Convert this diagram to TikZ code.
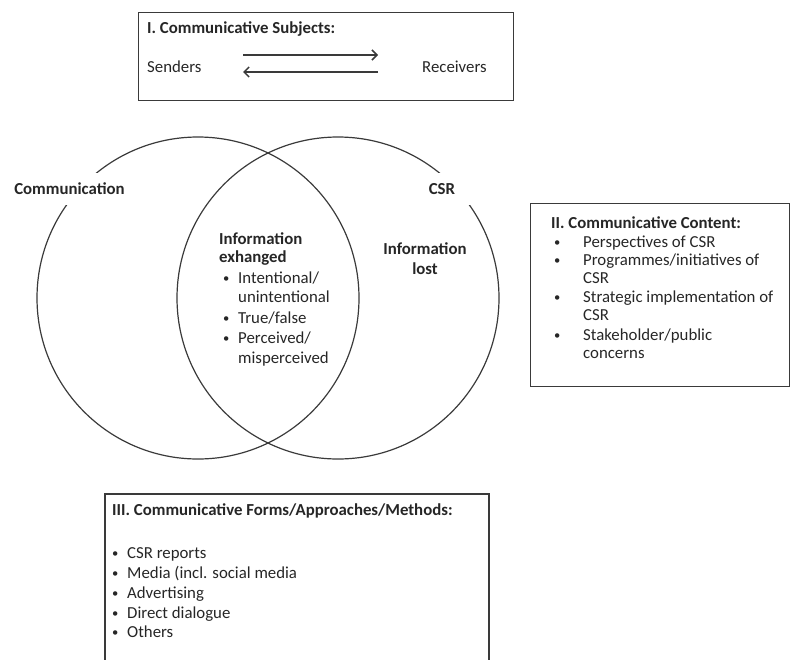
\documentclass[tikz,border=0pt]{standalone}
\usepackage{fontspec}
\usepackage{graphicx}
\setmainfont{Carlito}
\usetikzlibrary{arrows.meta}
\definecolor{ink}{HTML}{262626}
\definecolor{edge}{HTML}{3A3A3A}
\newcommand{\smallbul}{\raisebox{0.5pt}{\scalebox{0.75}{\textbullet}}}
\tikzset{
  txt/.style={anchor=base west, inner sep=0pt, text=ink, font=\fontsize{16.8}{20}\selectfont},
  ttl/.style={txt, font=\fontsize{16.8}{20}\selectfont\bfseries},
  bul/.style={txt},
  boxline/.style={draw=edge, line width=1.4pt},
  venn/.style={circle, draw=edge, line width=1.2pt, minimum size=322pt, inner sep=0pt},
  gaplabel/.style={fill=white, text=ink, font=\fontsize{16.8}{20}\selectfont\bfseries, minimum height=32pt, inner xsep=1pt},
  arr/.style={draw=edge, line width=1.5pt, -{Straight Barb[length=5pt,width=10pt,line width=1.5pt]}}
}
\begin{document}
\begin{tikzpicture}[x=1pt,y=-1pt]
\useasboundingbox (0,0) rectangle (792,659);
% Box I
\node[boxline, rectangle, minimum width=375pt, minimum height=88pt, anchor=north west] (boxI) at (138,12) {};
\node[ttl] (tI) at (147,33) {I. Communicative Subjects:};
\node[txt] (send) at (147,72) {Senders};
\node[txt] (recv) at (422,72) {Receivers};
\coordinate (a1s) at (243,55);
\coordinate (a1e) at (378,55);
\coordinate (a2s) at (378,72);
\coordinate (a2e) at (243,72);
\draw[arr] (a1s) -- (a1e);
\draw[arr] (a2s) -- (a2e);
% Venn circles
\node[venn] (comm) at (198,298) {};
\node[venn] (csr) at (338,298) {};
\node[gaplabel] (lcomm) at (69.5,189) {Communication};
\node[gaplabel, minimum width=60pt] (lcsr) at (442,189) {CSR};
% Intersection
\node[ttl] (ie1) at (219,244) {Information};
\node[ttl] (ie2) at (219,262) {exhanged};
\node[bul] (ib1) at (223,283) {\smallbul};
\node[txt] (ii1) at (238,283) {Intentional/};
\node[txt] (ii1b) at (238,302) {unintentional};
\node[bul] (ib2) at (223,323) {\smallbul};
\node[txt] (ii2) at (238,323) {True/false};
\node[bul] (ib3) at (223,343) {\smallbul};
\node[txt] (ii3) at (238,343) {Perceived/};
\node[txt] (ii3b) at (238,363) {misperceived};
% Information lost
\node[ttl, anchor=base] (il1) at (425,254) {Information};
\node[ttl, anchor=base] (il2) at (425,274) {lost};
% Box II
\node[boxline, rectangle, minimum width=259pt, minimum height=183pt, anchor=north west] (boxII) at (530,203) {};
\node[ttl] (tII) at (551,228) {II. Communicative Content:};
\node[bul] (cb1) at (554,247) {\smallbul};
\node[txt] (c1) at (583,247) {Perspectives of CSR};
\node[bul] (cb2) at (554,265) {\smallbul};
\node[txt] (c2) at (583,265) {Programmes/initiatives of};
\node[txt] (c2b) at (583,283) {CSR};
\node[bul] (cb3) at (554,302) {\smallbul};
\node[txt] (c3) at (583,302) {Strategic implementation of};
\node[txt] (c3b) at (583,320) {CSR};
\node[bul] (cb4) at (554,340) {\smallbul};
\node[txt] (c4) at (583,340) {Stakeholder/public};
\node[txt] (c4b) at (583,358) {concerns};
% Box III (bottom edge cut off by the picture border)
\coordinate (b3bl) at (105,670);
\coordinate (b3tl) at (105,494);
\coordinate (b3tr) at (489,494);
\coordinate (b3br) at (489,670);
\draw[boxline] (b3bl) -- (b3tl) -- (b3tr) -- (b3br);
\node[ttl] (tIII) at (112,515) {III. Communicative Forms/Approaches/Methods:};
\node[bul] (fb1) at (112,558) {\smallbul};
\node[txt] (f1) at (127,558) {CSR reports};
\node[bul] (fb2) at (112,578) {\smallbul};
\node[txt] (f2) at (127,578) {Media (incl. social media};
\node[bul] (fb3) at (112,598) {\smallbul};
\node[txt] (f3) at (127,598) {Advertising};
\node[bul] (fb4) at (112,618) {\smallbul};
\node[txt] (f4) at (127,618) {Direct dialogue};
\node[bul] (fb5) at (112,637) {\smallbul};
\node[txt] (f5) at (127,637) {Others};
\end{tikzpicture}
\end{document}
